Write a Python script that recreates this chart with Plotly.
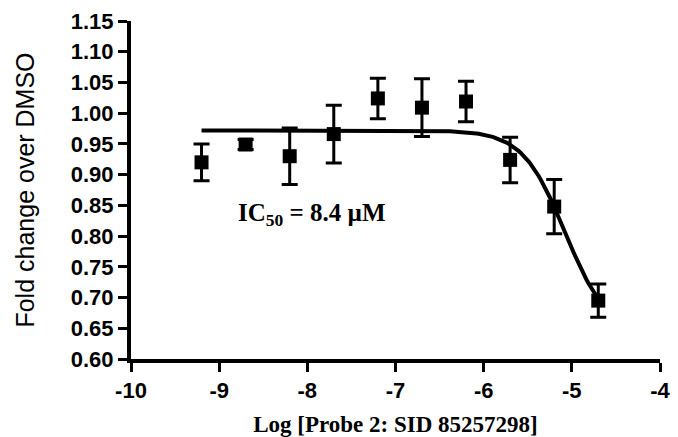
import numpy as np
import plotly.graph_objects as go

log_conc = [-9.2, -8.7, -8.2, -7.7, -7.2, -6.7, -6.2, -5.7, -5.2, -4.7]
fold_change = [0.920, 0.949, 0.930, 0.966, 1.024, 1.009, 1.019, 0.924, 0.848, 0.695]
sem = [0.030, 0.008, 0.046, 0.047, 0.033, 0.047, 0.033, 0.037, 0.044, 0.027]

# four-parameter logistic fit parameters
fit_top = 0.972
fit_bottom = 0.64
fit_log_ic50 = -5.076
fit_hill = 1.8

x_ticks = [-10, -9, -8, -7, -6, -5, -4]
y_ticks = [0.60, 0.65, 0.70, 0.75, 0.80, 0.85, 0.90, 0.95, 1.00, 1.05, 1.10, 1.15]

xf = np.linspace(min(log_conc), max(log_conc), 200)
yf = fit_bottom + (fit_top - fit_bottom) / (1 + 10 ** ((xf - fit_log_ic50) * fit_hill))

fig = go.Figure()
fig.add_trace(go.Scatter(x=xf, y=yf, mode="lines",
                         line=dict(color="black", width=4), hoverinfo="skip"))
fig.add_trace(go.Scatter(
    x=log_conc, y=fold_change, mode="markers",
    marker=dict(symbol="square", size=14, color="black"),
    error_y=dict(type="data", array=sem, visible=True, color="black",
                 thickness=3, width=8)))

fig.add_annotation(x=-7.95, y=0.835, xref="x", yref="y", showarrow=False,
                   text="<b>IC<sub>50</sub> = 8.4 µM</b>",
                   font=dict(family="Liberation Serif", size=25, color="black"))

fig.update_layout(
    width=670, height=429, showlegend=False,
    paper_bgcolor="white", plot_bgcolor="white",
    margin=dict(l=123, r=18, t=13, b=78),
    font=dict(family="Liberation Sans", color="black"),
)
fig.update_xaxes(
    range=[-10, -4], tickvals=x_ticks, ticktext=[f"<b>{v}</b>" for v in x_ticks],
    ticklabeloverflow="allow", automargin=False,
    showline=True, linecolor="black", linewidth=4, showgrid=False, zeroline=False,
    ticks="outside", ticklen=9, tickwidth=3, tickcolor="black",
    tickfont=dict(family="Liberation Sans", size=22, color="black"),
    title=dict(text="<b>Log [Probe 2: SID 85257298]</b>",
               font=dict(family="Liberation Serif", size=23, color="black"), standoff=15),
)
fig.update_yaxes(
    range=[0.6, 1.15], tickvals=y_ticks, ticktext=[f"<b>{v:.2f}</b>" for v in y_ticks],
    automargin=False,
    showline=True, linecolor="black", linewidth=4, showgrid=False, zeroline=False,
    ticks="outside", ticklen=9, tickwidth=3, tickcolor="black",
    tickfont=dict(family="Liberation Sans", size=22, color="black"),
    title=dict(text="Fold change over DMSO",
               font=dict(family="Liberation Sans", size=25, color="black"), standoff=30),
)

fig.write_html("out.html")
